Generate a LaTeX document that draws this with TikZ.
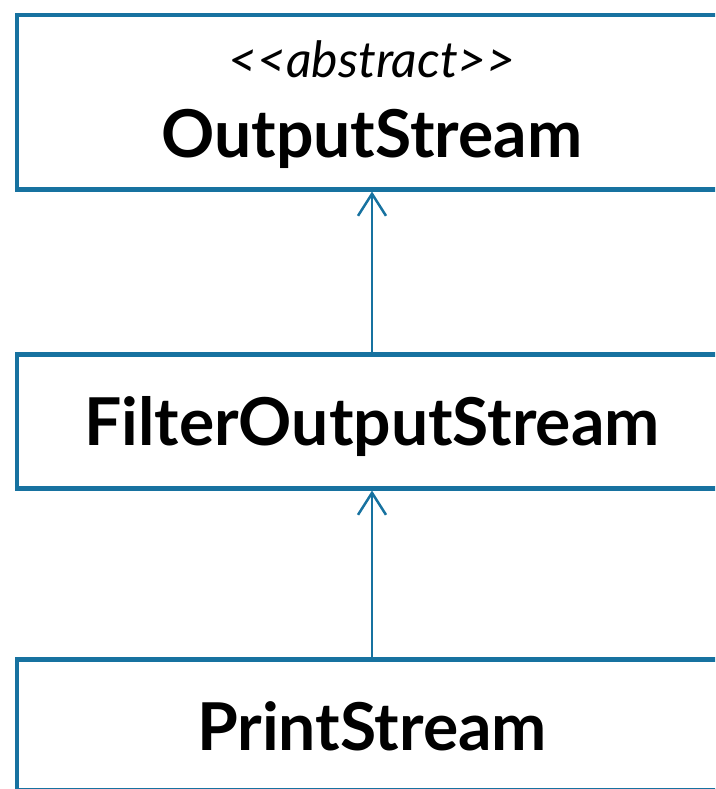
\documentclass[tikz,border=0pt]{standalone}
\usepackage{fontspec}
\setmainfont{Lato}
\usetikzlibrary{arrows.meta}
\definecolor{umlblue}{RGB}{23,114,160}
\tikzset{
  classbox/.style={draw=umlblue, line width=4.5pt, minimum width=710pt, inner sep=0pt, anchor=north},
  classname/.style={font=\fontsize{66}{70}\selectfont\bfseries, anchor=base, inner sep=0pt},
  stereo/.style={font=\fontsize{50}{54}\selectfont\itshape, anchor=base, inner sep=0pt},
  inherit/.style={draw=umlblue, line width=2.5pt, -{Straight Barb[length=22pt, width=28pt, line width=2.5pt]}}
}
\begin{document}
\begin{tikzpicture}[x=1pt, y=-1pt]
  \useasboundingbox (0,0) rectangle (715,789);
  \clip (0,0) rectangle (715,789);
  % class boxes
  \node[classbox, minimum height=174pt] (outbox) at (372,13) {};
  \node[classbox, minimum height=134pt] (filterbox) at (372,352) {};
  \node[classbox, minimum height=131pt] (printbox) at (372,657) {};
  % labels
  \node[stereo] (stereo) at (372,78) {{<}{<}abstract{>}{>}};
  \node[classname] (outname) at (372,157) {OutputStream};
  \node[classname] (filtername) at (372,445) {FilterOutputStream};
  \node[classname] (printname) at (372,750) {PrintStream};
  % generalisation arrows
  \draw[inherit] (filterbox.north) -- (outbox.south);
  \draw[inherit] (printbox.north) -- (filterbox.south);
\end{tikzpicture}
\end{document}
